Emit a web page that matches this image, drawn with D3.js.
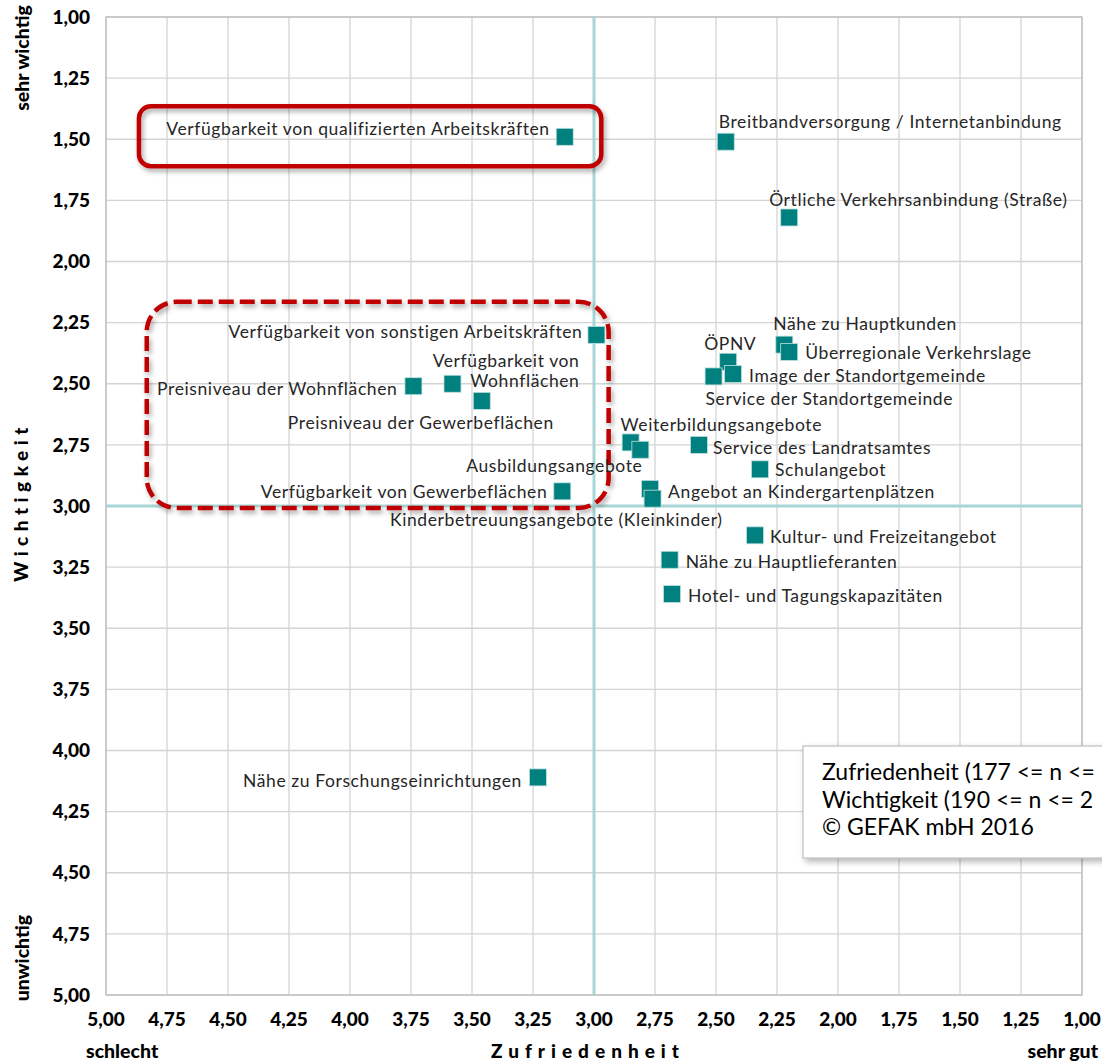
<!DOCTYPE html>
<html><head><meta charset="utf-8">
<script src="https://cdn.jsdelivr.net/npm/d3@7"></script>
<style>
html,body{margin:0;padding:0;background:#fff;overflow:hidden;}
svg{display:block;}
</style></head>
<body>
<svg id="chart" width="1102" height="1062"></svg>
<script>
// ---- data ----
const labels = [
  "Verfügbarkeit von qualifizierten Arbeitskräften",
  "Breitbandversorgung / Internetanbindung",
  "Örtliche Verkehrsanbindung (Straße)",
  "Verfügbarkeit von sonstigen Arbeitskräften",
  "Preisniveau der Wohnflächen",
  "Verfügbarkeit von|Wohnflächen",
  "Preisniveau der Gewerbeflächen",
  "Verfügbarkeit von Gewerbeflächen",
  "Weiterbildungsangebote",
  "Ausbildungsangebote",
  "Service des Landratsamtes",
  "Schulangebot",
  "Angebot an Kindergartenplätzen",
  "Kinderbetreuungsangebote (Kleinkinder)",
  "ÖPNV",
  "Image der Standortgemeinde",
  "Service der Standortgemeinde",
  "Nähe zu Hauptkunden",
  "Überregionale Verkehrslage",
  "Kultur- und Freizeitangebot",
  "Nähe zu Hauptlieferanten",
  "Hotel- und Tagungskapazitäten",
  "Nähe zu Forschungseinrichtungen"
];
const zufriedenheit = [3.12, 2.46, 2.20, 2.99, 3.74, 3.58, 3.46, 3.13, 2.85, 2.81, 2.57, 2.32, 2.77, 2.76, 2.45, 2.43, 2.51, 2.22, 2.20, 2.34, 2.69, 2.68, 3.23];
const wichtigkeit   = [1.49, 1.51, 1.82, 2.30, 2.51, 2.50, 2.57, 2.94, 2.74, 2.77, 2.75, 2.85, 2.93, 2.97, 2.41, 2.46, 2.47, 2.34, 2.37, 3.12, 3.22, 3.36, 4.11];
const xTicks = [5.00, 4.75, 4.50, 4.25, 4.00, 3.75, 3.50, 3.25, 3.00, 2.75, 2.50, 2.25, 2.00, 1.75, 1.50, 1.25, 1.00];
const yTicks = [1.00, 1.25, 1.50, 1.75, 2.00, 2.25, 2.50, 2.75, 3.00, 3.25, 3.50, 3.75, 4.00, 4.25, 4.50, 4.75, 5.00];
const refX = 3.00, refY = 3.00;
const noteLines = ["Zufriedenheit (177 <= n <=", "Wichtigkeit (190 <= n <= 2", "© GEFAK mbH 2016"];

// ---- layout (label offsets in px relative to marker) ----
const labelLayout = [
  {dx:-15, dy:-8, a:"end"},
  {dx:-7, dy:-20, a:"start"},
  {dx:-20, dy:-18, a:"start"},
  {dx:-14, dy:-3, a:"end"},
  {dx:-16, dy:3, a:"end"},
  {dx:127, dy:-23, a:"end", lh:20.5},
  {dx:72, dy:22, a:"end"},
  {dx:-15, dy:1, a:"end"},
  {dx:-10, dy:-18, a:"start"},
  {dx:2, dy:16, a:"end"},
  {dx:14, dy:3, a:"start"},
  {dx:15, dy:1, a:"start"},
  {dx:18, dy:3, a:"start"},
  {dx:70, dy:21, a:"end"},
  {dx:-24, dy:-18, a:"start"},
  {dx:16, dy:2, a:"start"},
  {dx:-8, dy:22, a:"start"},
  {dx:-11, dy:-21, a:"start"},
  {dx:16, dy:1, a:"start"},
  {dx:15, dy:2, a:"start"},
  {dx:16, dy:2, a:"start"},
  {dx:16, dy:2, a:"start"},
  {dx:-16, dy:3, a:"end"}
];

const svg = d3.select("#chart");
const L = 106, R = 1082, T = 17, B = 995;
const x = d3.scaleLinear().domain([5, 1]).range([L, R]);
const y = d3.scaleLinear().domain([1, 5]).range([T, B]);
const fmt = v => d3.format(".2f")(v).replace(".", ",");

const defs = svg.append("defs");
const f = defs.append("filter").attr("id","shadow").attr("x","-10%").attr("y","-10%").attr("width","130%").attr("height","140%");
f.append("feDropShadow").attr("dx",2).attr("dy",3).attr("stdDeviation",2.5).attr("flood-color","#000").attr("flood-opacity",0.35);
const f2 = defs.append("filter").attr("id","shadow2").attr("x","-10%").attr("y","-10%").attr("width","130%").attr("height","140%");
f2.append("feDropShadow").attr("dx",3).attr("dy",3).attr("stdDeviation",3).attr("flood-color","#000").attr("flood-opacity",0.3);

// grid
const g = svg.append("g");
g.selectAll(".vx").data(xTicks).join("line")
  .attr("x1", d => x(d)).attr("x2", d => x(d)).attr("y1", T).attr("y2", B)
  .attr("stroke", "#d4d4d4").attr("stroke-width", 1.3);
g.selectAll(".hy").data(yTicks).join("line")
  .attr("y1", d => y(d)).attr("y2", d => y(d)).attr("x1", L).attr("x2", R)
  .attr("stroke", "#d4d4d4").attr("stroke-width", 1.3);
g.append("rect").attr("x", L).attr("y", T).attr("width", R - L).attr("height", B - T)
  .attr("fill", "none").attr("stroke", "#bfbfbf").attr("stroke-width", 1.3);

// reference lines
g.append("line").attr("x1", x(refX)).attr("x2", x(refX)).attr("y1", T).attr("y2", B)
  .attr("stroke", "#a9d6d5").attr("stroke-width", 3);
g.append("line").attr("x1", L).attr("x2", R).attr("y1", y(refY)).attr("y2", y(refY))
  .attr("stroke", "#a9d6d5").attr("stroke-width", 3);

// tick labels
const tickFont = "Lato, 'Open Sans', sans-serif";
svg.append("g").selectAll("text").data(yTicks).join("text")
  .attr("x", 90).attr("y", d => y(d)).attr("dy", "0.35em")
  .attr("text-anchor", "end").attr("font-family", tickFont).attr("font-weight", "900")
  .attr("font-size", 19).attr("fill", "#000").text(fmt);
svg.append("g").selectAll("text").data(xTicks).join("text")
  .attr("x", d => x(d)).attr("y", 1019).attr("dy", "0.35em")
  .attr("text-anchor", "middle").attr("font-family", tickFont).attr("font-weight", "900")
  .attr("font-size", 19).attr("fill", "#000").text(fmt);

// axis titles
svg.append("text").attr("transform", "translate(28,502) rotate(-90)")
  .attr("text-anchor", "middle").attr("font-family", tickFont).attr("font-weight", "900")
  .attr("font-size", 19).attr("letter-spacing", 5.5).attr("fill", "#000").text("Wichtigkeit");
svg.append("text").attr("transform", "translate(29,58) rotate(-90)")
  .attr("text-anchor", "middle").attr("font-family", tickFont).attr("font-weight", "900")
  .attr("font-size", 19.5).attr("fill", "#000").text("sehr wichtig");
svg.append("text").attr("transform", "translate(29,958) rotate(-90)")
  .attr("text-anchor", "middle").attr("font-family", tickFont).attr("font-weight", "900")
  .attr("font-size", 19.5).attr("fill", "#000").text("unwichtig");
svg.append("text").attr("x", 588).attr("y", 1051).attr("dy", "0.35em")
  .attr("text-anchor", "middle").attr("font-family", tickFont).attr("font-weight", "900")
  .attr("font-size", 19).attr("letter-spacing", 6).attr("fill", "#000").text("Zufriedenheit");
svg.append("text").attr("x", 86).attr("y", 1051).attr("dy", "0.35em")
  .attr("text-anchor", "start").attr("font-family", tickFont).attr("font-weight", "900")
  .attr("font-size", 19.5).attr("fill", "#000").text("schlecht");
svg.append("text").attr("x", 1098).attr("y", 1051).attr("dy", "0.35em")
  .attr("text-anchor", "end").attr("font-family", tickFont).attr("font-weight", "900")
  .attr("font-size", 19.5).attr("fill", "#000").text("sehr gut");

// annotation boxes (in data units)
const solidBox = {x1: 4.865, x2: 2.97, y1: 1.365, y2: 1.61};
const dashBox = {x1: 4.833, x2: 2.94, y1: 2.165, y2: 3.008};
svg.append("rect")
  .attr("x", x(solidBox.x1)).attr("y", y(solidBox.y1))
  .attr("width", x(solidBox.x2) - x(solidBox.x1)).attr("height", y(solidBox.y2) - y(solidBox.y1))
  .attr("rx", 12).attr("fill", "none").attr("stroke", "#c00000").attr("stroke-width", 4.5)
  .attr("filter", "url(#shadow)");
svg.append("rect")
  .attr("x", x(dashBox.x1)).attr("y", y(dashBox.y1))
  .attr("width", x(dashBox.x2) - x(dashBox.x1)).attr("height", y(dashBox.y2) - y(dashBox.y1))
  .attr("rx", 30).attr("fill", "none").attr("stroke", "#c00000").attr("stroke-width", 4.5)
  .attr("stroke-dasharray", "15 6").attr("filter", "url(#shadow)");

// points
const pts = labels.map((l, i) => ({label: l, zx: zufriedenheit[i], wy: wichtigkeit[i], lay: labelLayout[i]}));
const S = 17;
svg.append("g").selectAll("rect").data(pts).join("rect")
  .attr("x", d => x(d.zx) - S / 2).attr("y", d => y(d.wy) - S / 2)
  .attr("width", S).attr("height", S)
  .attr("fill", "#00807e").attr("stroke", "#bfe0df").attr("stroke-width", 0.8);

// labels
const lab = svg.append("g").selectAll("text").data(pts).join("text")
  .attr("text-anchor", d => d.lay.a)
  .attr("font-family", "Lato, 'Open Sans', sans-serif")
  .attr("font-size", 17.5).attr("letter-spacing", 0.6).attr("fill", "#262626");
lab.each(function(d) {
  const t = d3.select(this);
  const lines = d.label.split("|");
  lines.forEach((ln, k) => {
    t.append("tspan")
      .attr("x", x(d.zx) + d.lay.dx)
      .attr("y", y(d.wy) + d.lay.dy + k * (d.lay.lh || 0))
      .attr("dy", "0.35em").text(ln);
  });
});

// note box
const nb = svg.append("g");
nb.append("rect").attr("x", 803).attr("y", 746).attr("width", 320).attr("height", 112)
  .attr("fill", "#fff").attr("stroke", "#bfbfbf").attr("stroke-width", 1.2).attr("filter", "url(#shadow2)");
nb.selectAll("text").data(noteLines).join("text")
  .attr("x", 822).attr("y", (d, i) => 772 + i * 27.5).attr("dy", "0.35em")
  .attr("font-family", "Lato, 'Open Sans', sans-serif").attr("font-size", 23)
  .attr("fill", "#000").text(d => d);
</script>
</body></html>
